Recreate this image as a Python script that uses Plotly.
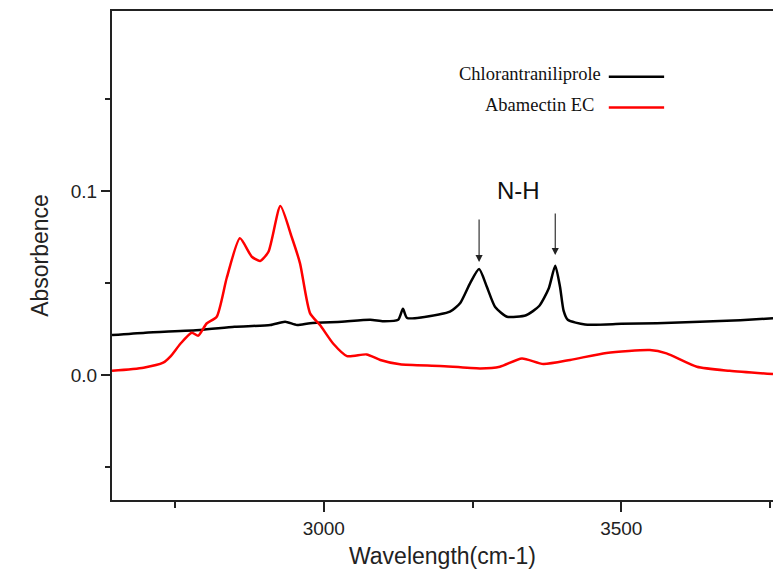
import plotly.graph_objects as go

# Chlorantraniliprole (black)
chl_wn = [2644, 2700, 2792, 2850, 2910, 2935, 2955, 2977, 3030, 3078, 3100, 3125, 3133, 3140, 3195, 3212,
          3229, 3246, 3261, 3274, 3288, 3308, 3340, 3362, 3378, 3389, 3397, 3403, 3410, 3439,
          3500, 3560, 3632, 3700, 3755]
chl_abs = [0.0217, 0.0230, 0.0245, 0.0262, 0.0272, 0.0290, 0.0272, 0.0282, 0.0290, 0.0300, 0.0292, 0.0300, 0.0360, 0.0310,
           0.0330, 0.0344, 0.0390, 0.0500, 0.0576, 0.0480, 0.0370, 0.0317, 0.0325, 0.0375, 0.0470, 0.0594,
           0.0480, 0.0350, 0.0300, 0.0275, 0.0278, 0.0282, 0.0290, 0.0298, 0.0308]

# Abamectin EC (red)
aba_wn = [2644, 2697, 2730, 2742, 2759, 2778, 2789, 2803, 2820, 2837, 2859, 2879, 2893, 2907, 2927, 2946,
          2960, 2977, 2994, 3016, 3039, 3072, 3095, 3128, 3195, 3263, 3296, 3333, 3369, 3414, 3475,
          3548, 3576, 3627, 3682, 3755]
aba_abs = [0.0023, 0.0040, 0.0067, 0.0100, 0.0170, 0.0230, 0.0214, 0.0280, 0.0317, 0.0530, 0.0743, 0.0643,
           0.0620, 0.0670, 0.0918, 0.0750, 0.0607, 0.0335, 0.0270, 0.0170, 0.0103, 0.0112, 0.0082, 0.0058,
           0.0049, 0.0036, 0.0045, 0.0090, 0.0060, 0.0082, 0.0120, 0.0136, 0.0118, 0.0045, 0.0023, 0.0005]

# N-H peak annotations
nh_peaks = [3261, 3389]
nh_tail = [0.0853, 0.0886]
nh_head = [0.0614, 0.0652]

fig = go.Figure()
fig.add_trace(go.Scatter(x=chl_wn, y=chl_abs, mode="lines", name="Chlorantraniliprole",
                         line=dict(color="black", width=2.5, shape="spline", smoothing=0.6)))
fig.add_trace(go.Scatter(x=aba_wn, y=aba_abs, mode="lines", name="Abamectin EC",
                         line=dict(color="red", width=2.5, shape="spline", smoothing=0.6)))

for xp, yt, yh in zip(nh_peaks, nh_tail, nh_head):
    fig.add_annotation(x=xp, y=yh, ax=xp, ay=yt, xref="x", yref="y", axref="x", ayref="y",
                       text="", showarrow=True, arrowhead=2, arrowsize=1.3, arrowwidth=1.1,
                       arrowcolor="#222")
fig.add_annotation(x=3328, y=0.1005, xref="x", yref="y", text="N-H", showarrow=False,
                   font=dict(family="Liberation Sans, Arial", size=24, color="#111"))

# manual legend
legend_items = [("Chlorantraniliprole", "black", 0.1636, 0.1621, 3469),
                ("Abamectin EC", "red", 0.1467, 0.1453, 3457)]
for name, col, ty, ly, tx in legend_items:
    fig.add_annotation(x=tx, y=ty, xref="x", yref="y", text=name, showarrow=False, xanchor="right",
                       font=dict(family="Liberation Serif, Times New Roman", size=18.5, color="#111"))
    fig.add_shape(type="line", x0=3479, x1=3572, y0=ly, y1=ly, xref="x", yref="y",
                  line=dict(color=col, width=2.5))

fig.update_layout(
    width=773, height=578,
    margin=dict(l=112, r=0, t=11, b=78),
    plot_bgcolor="white", paper_bgcolor="white",
    showlegend=False,
    font=dict(family="Liberation Sans, Arial", color="#222"),
)
fig.update_xaxes(
    range=[2644, 3755], tickvals=[3000, 3500], ticktext=["3000", "3500"],
    ticks="outside", ticklen=10, tickwidth=1.8, tickcolor="#222",
    minor=dict(tickvals=[2750, 3250, 3750], ticks="outside", ticklen=6, tickwidth=1.8, tickcolor="#222"),
    showline=True, linewidth=2, linecolor="#222", mirror=True,
    showgrid=False, zeroline=False,
    tickfont=dict(size=19, color="#222"),
    title=dict(text="Wavelength(cm-1)", font=dict(size=23, color="#222"), standoff=10),
)
fig.update_yaxes(
    range=[-0.0679, 0.1978], tickvals=[0.0, 0.1], ticktext=["0.0", "0.1"],
    ticks="outside", ticklen=9, tickwidth=1.8, tickcolor="#222",
    minor=dict(tickvals=[-0.05, 0.05, 0.15], ticks="outside", ticklen=5, tickwidth=1.8, tickcolor="#222"),
    showline=True, linewidth=2, linecolor="#222", mirror=False,
    showgrid=False, zeroline=False,
    tickfont=dict(size=19, color="#222"),
    title=dict(text="Absorbence", font=dict(size=23, color="#222"), standoff=16),
)

fig.write_html("out.html")
